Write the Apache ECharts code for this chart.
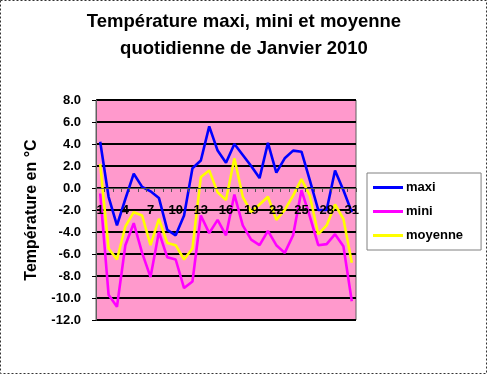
<!DOCTYPE html>
<html><head><meta charset="utf-8">
<script src="https://cdn.jsdelivr.net/npm/echarts@6/dist/echarts.min.js"></script>
<style>html,body{margin:0;padding:0;background:#fff}#c{width:488px;height:375px}</style>
</head><body><div id="c"></div>
<script>
const days = ['1','2','3','4','5','6','7','8','9','10','11','12','13','14','15','16','17','18','19','20','21','22','23','24','25','26','27','28','29','30','31'];
const maxi = [4.2,-0.8,-3.4,-1.0,1.3,0.1,-0.3,-0.9,-3.8,-4.3,-2.5,1.8,2.5,5.6,3.4,2.3,4.0,3.0,2.0,0.9,4.1,1.4,2.7,3.4,3.3,0.7,-2.0,-2.0,1.6,-0.2,-2.2];
const mini = [-0.5,-9.7,-10.8,-5.2,-3.2,-5.9,-8.1,-4.0,-6.3,-6.5,-9.1,-8.5,-2.5,-4.1,-2.9,-4.3,-0.6,-3.4,-4.7,-5.2,-3.9,-5.2,-5.9,-4.3,-0.2,-2.6,-5.2,-5.1,-4.2,-5.3,-10.3];
const moyenne = [2.2,-5.5,-6.5,-3.5,-2.2,-2.5,-5.2,-2.8,-5.0,-5.2,-6.5,-5.5,1.0,1.6,-0.4,-1.1,2.7,-0.8,-2.2,-1.5,-0.8,-2.9,-2.0,-0.7,0.8,-0.7,-4.2,-3.4,-1.5,-2.8,-6.8];
const titleLines = ['Température maxi, mini et moyenne', 'quotidienne de Janvier 2010'];
const yName = 'Température en °C';
const F = 'Liberation Sans, Arial, sans-serif';
const chart = echarts.init(document.getElementById('c'));
const mk = (name, data, color) => ({name, type:'line', data, symbol:'none', lineStyle:{color, width:2.6}, itemStyle:{color}, z:2});
chart.setOption({
  animation:false,
  title:{text:titleLines.join('\n'), left:'center', top:3, textStyle:{fontFamily:F, fontWeight:'bold', fontSize:18.5, lineHeight:27, color:'#000'}},
  graphic:[{type:'rect', shape:{x:0.5,y:0.5,width:486,height:373}, style:{fill:'none', stroke:'#333', lineDash:[2,2], lineWidth:1}, silent:true, z:0}],
  grid:{left:96, right:132, top:100, bottom:55, show:true, backgroundColor:'#ff99cc', borderColor:'#606060', borderWidth:1},
  legend:{orient:'vertical', left:367, top:173, itemWidth:30, itemHeight:3, itemGap:11, icon:'rect',
    padding:[8,18,8,6], borderColor:'#808080', borderWidth:1, backgroundColor:'#fff',
    textStyle:{fontFamily:F, fontWeight:'bold', fontSize:13, color:'#000', padding:[0,0,0,-2]},
    data:['maxi','mini','moyenne']},
  xAxis:{type:'category', data:days, boundaryGap:true, position:'bottom', offset:-132, zlevel:1, z:10,
    axisLine:{onZero:false, lineStyle:{color:'#555', width:1}},
    axisTick:{show:true, interval:0, length:4, lineStyle:{color:'#555'}},
    axisLabel:{interval:2, margin:16, fontFamily:F, fontWeight:'bold', fontSize:13, color:'#000'},
    splitLine:{show:false}},
  yAxis:{type:'value', min:-12, max:8, interval:2,
    name:yName, nameLocation:'middle', nameGap:56, nameRotate:90,
    nameTextStyle:{fontFamily:F, fontWeight:'bold', fontSize:16, color:'#000'},
    axisLine:{show:true, lineStyle:{color:'#606060'}},
    axisTick:{show:true, length:4, lineStyle:{color:'#000'}},
    axisLabel:{margin:15, fontFamily:F, fontWeight:'bold', fontSize:13, color:'#000', formatter:v=>v.toFixed(1)},
    splitLine:{show:true, lineStyle:{color:'#000', width:2}}},
  series:[mk('maxi', maxi, '#0000ff'), mk('mini', mini, '#ff00ff'), mk('moyenne', moyenne, '#ffff00')]
});
</script></body></html>
